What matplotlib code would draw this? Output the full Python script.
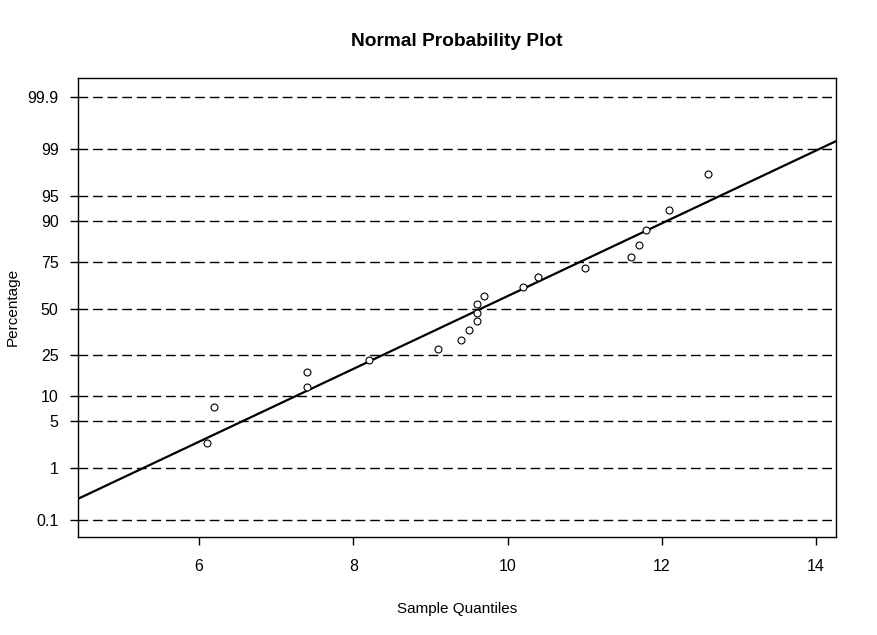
import matplotlib
matplotlib.use("Agg")
import matplotlib.pyplot as plt
from statistics import NormalDist
import numpy as np

# Sample values (sorted)
sampleValues = [6.1, 6.2, 7.4, 7.4, 8.2, 9.1, 9.4, 9.5, 9.6, 9.6,
                9.6, 9.7, 10.2, 10.4, 11.0, 11.6, 11.7, 11.8, 12.1, 12.6]

# Percentage ticks on the probability axis
percentTicks = [0.1, 1, 5, 10, 25, 50, 75, 90, 95, 99, 99.9]
percentLabels = ["0.1", "1", "5", "10", "25", "50", "75", "90", "95", "99", "99.9"]
xTicks = [6, 8, 10, 12, 14]

plt.rcParams["font.family"] = ["Liberation Sans", "DejaVu Sans"]

nd = NormalDist()
x = np.sort(np.array(sampleValues))
n = x.size
# plotting positions (i - 0.5) / n -> normal quantiles
z = np.array([nd.inv_cdf((i - 0.5) / n) for i in range(1, n + 1)])
tickZ = [nd.inv_cdf(p / 100) for p in percentTicks]

fig = plt.figure(figsize=(8.77, 6.35), dpi=100)
ax = fig.add_axes([78 / 877, 1 - 537 / 635, (836 - 78) / 877, (537 - 78) / 635])

xMin, xMax = 4.43, 14.26
yMin, yMax = -3.34, 3.37

# reference lines at each percentage tick
for tz in tickZ:
    ax.axhline(tz, color="black", lw=1.0, dashes=(7, 3.5), zorder=1)

# fitted normal line (mean, sd)
mu = x.mean()
sd = x.std(ddof=1)
lineX = np.array([xMin, xMax])
ax.plot(lineX, (lineX - mu) / sd, color="black", lw=1.6, zorder=2)

ax.plot(x, z, "o", mfc="white", mec="black", ms=5, mew=0.8, zorder=3)

ax.set_xlim(xMin, xMax)
ax.set_ylim(yMin, yMax)
ax.set_xticks(xTicks)
ax.set_yticks(tickZ)
ax.set_yticklabels(percentLabels)
ax.tick_params(direction="out", length=6, width=1, labelsize=11.5)
ax.tick_params(axis="y", pad=8)
ax.tick_params(axis="x", pad=10)
for s in ax.spines.values():
    s.set_linewidth(1)

ax.set_xlabel("Sample Quantiles", fontsize=11, labelpad=20)
fig.text(13 / 877, 1 - 307 / 635, "Percentage", fontsize=11, rotation=90,
         ha="center", va="center")
fig.text(457 / 877, 1 - 41 / 635, "Normal Probability Plot", fontsize=13.8,
         fontweight="bold", ha="center", va="center")

fig.savefig("out.png", dpi=100)
